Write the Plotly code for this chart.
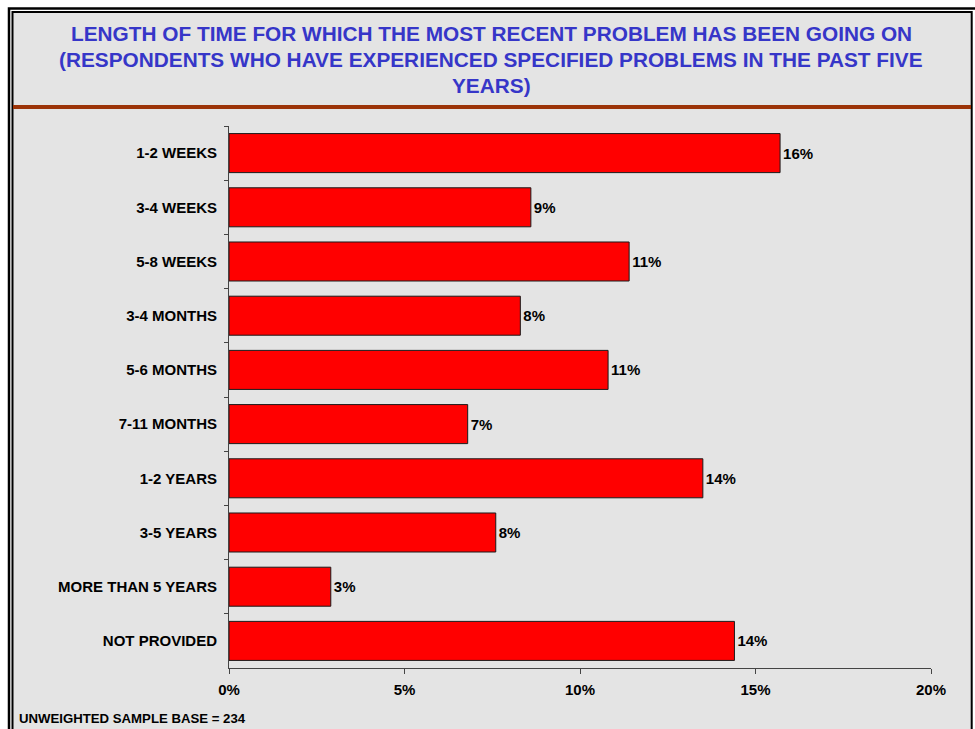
import plotly.graph_objects as go

# Survey results: how long the most recent problem has been going on
categories = [
    "1-2 WEEKS", "3-4 WEEKS", "5-8 WEEKS", "3-4 MONTHS", "5-6 MONTHS",
    "7-11 MONTHS", "1-2 YEARS", "3-5 YEARS", "MORE THAN 5 YEARS", "NOT PROVIDED",
]
percent = [15.7, 8.6, 11.4, 8.3, 10.8, 6.8, 13.5, 7.6, 2.9, 14.4]
x_ticks = [0, 5, 10, 15, 20]
x_tick_text = ["0%", "5%", "10%", "15%", "20%"]

title_lines = [
    "LENGTH OF TIME FOR WHICH THE MOST RECENT PROBLEM HAS BEEN GOING ON",
    "(RESPONDENTS WHO HAVE EXPERIENCED SPECIFIED PROBLEMS IN THE PAST FIVE",
    "YEARS)",
]
base_note = "UNWEIGHTED SAMPLE BASE = 234"

W, H = 975, 729
L, R, T, B = 229, 931, 126, 668
FONT = "Arial, Liberation Sans, sans-serif"


def px(xp):
    return (xp - L) / (R - L)


def py(yp):
    return (B - yp) / (B - T)


fig = go.Figure(
    go.Bar(
        x=percent,
        y=categories,
        orientation="h",
        marker=dict(color="#ff0000", line=dict(color="#1a1a1a", width=1)),
        texttemplate="%{x:.0f}%",
        textposition="outside",
        textfont=dict(family=FONT, size=15, color="#000000", weight="bold"),
        cliponaxis=False,
        hoverinfo="skip",
    )
)

shapes = [
    # textured panel
    dict(type="rect", xref="paper", yref="paper", layer="below",
         x0=px(12), x1=px(972), y0=py(11), y1=py(740),
         fillcolor="#e4e4e4", line=dict(width=0)),
    # double frame
    dict(type="rect", xref="paper", yref="paper", layer="above",
         x0=px(9), x1=px(990), y0=py(8.5), y1=py(745),
         line=dict(color="#000000", width=2.5)),
    dict(type="rect", xref="paper", yref="paper", layer="above",
         x0=px(12.5), x1=px(971.7), y0=py(12), y1=py(745),
         line=dict(color="#000000", width=2)),
    # rule under the heading
    dict(type="line", xref="paper", yref="paper", layer="above",
         x0=px(13), x1=px(971), y0=py(107), y1=py(107),
         line=dict(color="#9c3408", width=4)),
]

annotations = []
for yc, line in zip([33, 59, 86], title_lines):
    annotations.append(dict(
        text=line, xref="paper", yref="paper", x=px(491), y=py(yc),
        xanchor="center", yanchor="middle", showarrow=False,
        font=dict(family=FONT, size=20.8, color="#3636c8", weight="bold"),
    ))
annotations.append(dict(
    text=base_note, xref="paper", yref="paper", x=px(17), y=py(718),
    xanchor="left", yanchor="middle", showarrow=False,
    font=dict(family=FONT, size=13.2, color="#000000", weight="bold"),
))

fig.update_layout(
    width=W, height=H,
    margin=dict(l=L, r=W - R, t=T, b=H - B, pad=0),
    paper_bgcolor="#ffffff",
    plot_bgcolor="rgba(0,0,0,0)",
    showlegend=False,
    bargap=0.28,
    shapes=shapes,
    annotations=annotations,
    xaxis=dict(
        range=[0, 20], tickvals=x_ticks, ticktext=x_tick_text,
        showgrid=False, zeroline=False,
        showline=True, linecolor="#444444", linewidth=1,
        ticks="outside", ticklen=5, tickcolor="#444444",
        ticklabelstandoff=3,
        tickfont=dict(family=FONT, size=15, color="#000000", weight="bold"),
        fixedrange=True,
    ),
    yaxis=dict(
        autorange="reversed",
        showgrid=False, zeroline=False,
        showline=True, linecolor="#444444", linewidth=1,
        ticks="outside", ticklen=4, tickcolor="#444444",
        tickson="boundaries", ticklabelstandoff=8,
        tickfont=dict(family=FONT, size=15, color="#000000", weight="bold"),
        fixedrange=True,
    ),
)

fig.write_html("out.html")
